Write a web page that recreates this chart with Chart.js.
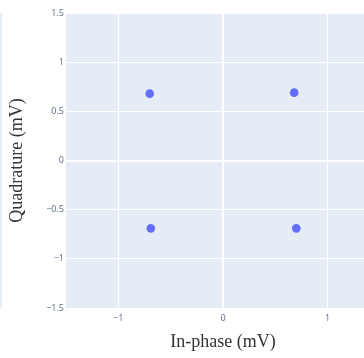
<!DOCTYPE html>
<html>
<head>
<meta charset="utf-8">
<script src="https://cdn.jsdelivr.net/npm/chart.js@4/dist/chart.umd.min.js"></script>
<style>
  html, body { margin: 0; padding: 0; background: #fff; overflow: hidden; }
  #wrap { position: relative; width: 400px; height: 358px; }
  #edge { position: absolute; left: 0; top: 13px; width: 2px; height: 295px; background: #e5ecf6; }
</style>
</head>
<body>
<div id="wrap">
  <div id="edge"></div>
  <canvas id="grafico" width="400" height="358"></canvas>
</div>
<script>
// constellation points (mV)
const inPhase = [-0.70, 0.68, -0.69, 0.70];
const quadrature = [0.68, 0.69, -0.69, -0.69];
const xTicks = [-1, 0, 1];
const yTicks = [-1.5, -1, -0.5, 0, 0.5, 1, 1.5];

const pontos = inPhase.map((x, i) => ({ x: x, y: quadrature[i] }));

const fmt = v => String(v).replace('-', '\u2212');

// fundo da área do gráfico
const fundo = {
  id: 'fundo',
  beforeDraw(chart) {
    const a = chart.chartArea;
    const ctx = chart.ctx;
    ctx.save();
    ctx.fillStyle = '#e5ecf6';
    ctx.fillRect(a.left, a.top, a.right - a.left, a.bottom - a.top);
    ctx.restore();
  }
};

const grade = {
  color: '#ffffff',
  lineWidth: c => (c.tick && c.tick.value === 0 ? 2 : 1),
  drawTicks: false
};

const ctx = document.getElementById('grafico').getContext('2d');
const grafico = new Chart(ctx, {
  type: 'scatter',
  data: {
    datasets: [{
      data: pontos,
      backgroundColor: '#636efa',
      borderWidth: 0,
      pointRadius: 4.3
    }]
  },
  options: {
    responsive: false,
    animation: false,
    layout: { padding: { top: 13, right: 20, left: 0, bottom: 0 } },
    plugins: { legend: { display: false }, tooltip: { enabled: false } },
    scales: {
      x: {
        min: -1.5,
        max: 1.5,
        border: { display: false },
        grid: grade,
        afterBuildTicks: s => { s.ticks = xTicks.map(v => ({ value: v })); },
        afterFit: s => { s.height = 50; },
        ticks: {
          padding: 5,
          color: '#5b6b88',
          font: { family: 'Open Sans', size: 9 },
          callback: v => fmt(v)
        },
        title: {
          display: true,
          text: 'In-phase (mV)',
          color: '#333',
          font: { family: 'Liberation Serif', size: 18 },
          padding: { top: 0, bottom: 5 }
        }
      },
      y: {
        min: -1.5,
        max: 1.5,
        border: { display: false },
        grid: grade,
        afterBuildTicks: s => { s.ticks = yTicks.map(v => ({ value: v })); },
        afterFit: s => { s.width = 66; },
        ticks: {
          padding: 2,
          color: '#5b6b88',
          font: { family: 'Open Sans', size: 9 },
          callback: v => fmt(v)
        },
        title: {
          display: true,
          text: 'Quadrature (mV)',
          color: '#333',
          font: { family: 'Liberation Serif', size: 18 },
          padding: { top: 6, bottom: 0 }
        }
      }
    }
  },
  plugins: [fundo]
});
</script>
</body>
</html>
